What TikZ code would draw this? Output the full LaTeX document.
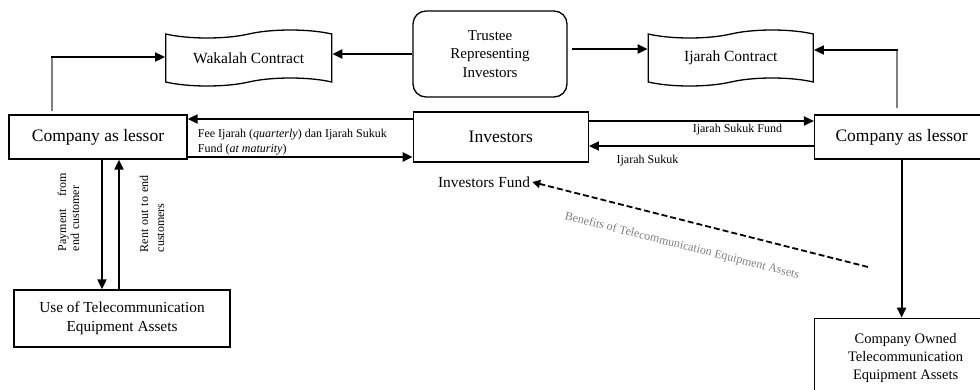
\documentclass[tikz,border=0pt]{standalone}
\usepackage{fontspec}
\setmainfont{Liberation Serif}
\usetikzlibrary{arrows.meta,chains,positioning,shapes.symbols}
\tikzstyle{party}=[draw,line width=1.3pt,minimum height=44pt,font=\fontsize{17.5}{21}\selectfont]
\tikzstyle{asset}=[draw,line width=1.3pt,align=center,font=\fontsize{15.3}{19}\selectfont]
\tikzstyle{contract}=[tape,draw,line width=1.3pt,minimum width=166pt,minimum height=56pt,tape bend height=8pt,font=\fontsize{15.5}{19}\selectfont]
\tikzstyle{flow}=[line width=2pt,-{Triangle[length=10pt,width=9pt]}]
\tikzstyle{gain}=[line width=1.8pt,dash pattern=on 6pt off 3pt,-{Triangle[length=8pt,width=8pt]}]
\tikzstyle{link}=[draw=gray,line width=1.2pt]
\tikzstyle{note}=[font=\fontsize{12}{15}\selectfont,inner sep=2pt]

\begin{document}
\begin{tikzpicture}[x=1pt,y=-1pt]
\useasboundingbox (0,0) rectangle (980,389);
% contracts and trustee
\node[draw,line width=1.3pt,rounded corners=13pt,minimum width=154pt,minimum height=86pt,align=center,font=\fontsize{15}{18.5}\selectfont] (trustee) at (490,54) {Trustee\\Representing\\Investors};
\node[contract,left=80pt of trustee,yshift=-4pt] (wakalah) {Wakalah Contract};
\node[contract,right=80pt of trustee,yshift=-4pt,minimum width=165pt] (ijarah) {Ijarah Contract};
% parties
\begin{scope}[start chain=mid going right,node distance=225pt]
    \node[on chain=mid,party,minimum width=178pt] (lessorL) at (98,137) {Company as lessor};
    \node[on chain=mid,party,minimum width=175pt,minimum height=50pt] (investors) {Investors};
    \node[on chain=mid,party,minimum width=174pt] (lessorR) {Company as lessor};
\end{scope}
% assets
\node[asset,minimum width=216pt,minimum height=57pt] (useof) at (122,318.5) {Use of Telecommunication\\Equipment Assets};
\node[asset,below=158pt of lessorR,xshift=4pt,minimum width=182pt,minimum height=80pt,font=\fontsize{14.5}{18}\selectfont] (owned) {Company Owned\\Telecommunication\\Equipment Assets};

% trustee to contracts
\draw[flow] (trustee.west) -- (trustee.west -| wakalah.east);
\coordinate (toijarah) at ([xshift=4pt,yshift=5pt]trustee.east);
\draw[flow] (toijarah) -- (toijarah -| ijarah.west);
% companies to contracts
\coordinate (wakin) at (52,57);
\draw[link] ([yshift=3pt]lessorL.north -| wakin) -- (wakin);
\draw[flow] ([xshift=-0.6pt]wakin) -- (wakin -| wakalah.west);
\coordinate (ijin) at (897,50);
\draw[link] ([yshift=6pt]lessorR.north -| ijin) -- (ijin);
\draw[flow] ([xshift=0.6pt]ijin) -- (ijin -| ijarah.east);
% investors and left company
\coordinate (feeback) at ([yshift=18pt]investors.west);
\draw[flow] (feeback) -- (feeback -| lessorL.east);
\coordinate (feeout) at ([yshift=-20pt]lessorL.east);
\draw[flow] (feeout) -- (feeout -| investors.west);
\node[note,anchor=west,align=left] (fee) at ([xshift=8pt,yshift=-5.5pt]lessorL.east) {Fee Ijarah (\textit{quarterly}) dan Ijarah Sukuk\\Fund (\textit{at maturity})};
% investors and right company
\coordinate (fundout) at ([yshift=16pt]investors.east);
\draw[flow] (fundout) -- node[note,below,pos=0.66] {Ijarah Sukuk Fund} (fundout -| lessorR.west);
\coordinate (sukukback) at ([yshift=-9pt]lessorR.west);
\draw[flow] (sukukback) -- node[note,below=6pt,pos=0.74] {Ijarah Sukuk} (sukukback -| investors.east);
% left company and assets in use
\coordinate (payout) at ([xshift=4pt]lessorL.south);
\coordinate (rentin) at ([xshift=21pt]lessorL.south);
\draw[flow] (payout) -- (payout |- useof.north);
\draw[flow] (rentin |- useof.north) -- (rentin);
\node[note,rotate=90,text width=78pt,align=left,font=\fontsize{12}{13}\selectfont] (payment) at (68.5,212) {Payment\hfill from\\end customer};
\node[note,rotate=90,text width=84pt,align=left,font=\fontsize{12}{16}\selectfont] (rent) at (152,210) {Rent out to end\\customers};
% right company and owned assets
\draw[flow] (lessorR.south) -- (owned.north -| lessorR.south);
% benefits back to investors
\node[inner sep=2pt,font=\fontsize{15.4}{18}\selectfont] (invfund) at (484,182) {Investors Fund};
\coordinate (benefit) at (868,267);
\draw[gain] (benefit) -- (invfund.east);
\node[note,gray,rotate=-14.2] (benefits) at (682,246) {Benefits of Telecommunication Equipment Assets};
\end{tikzpicture}
\end{document}
